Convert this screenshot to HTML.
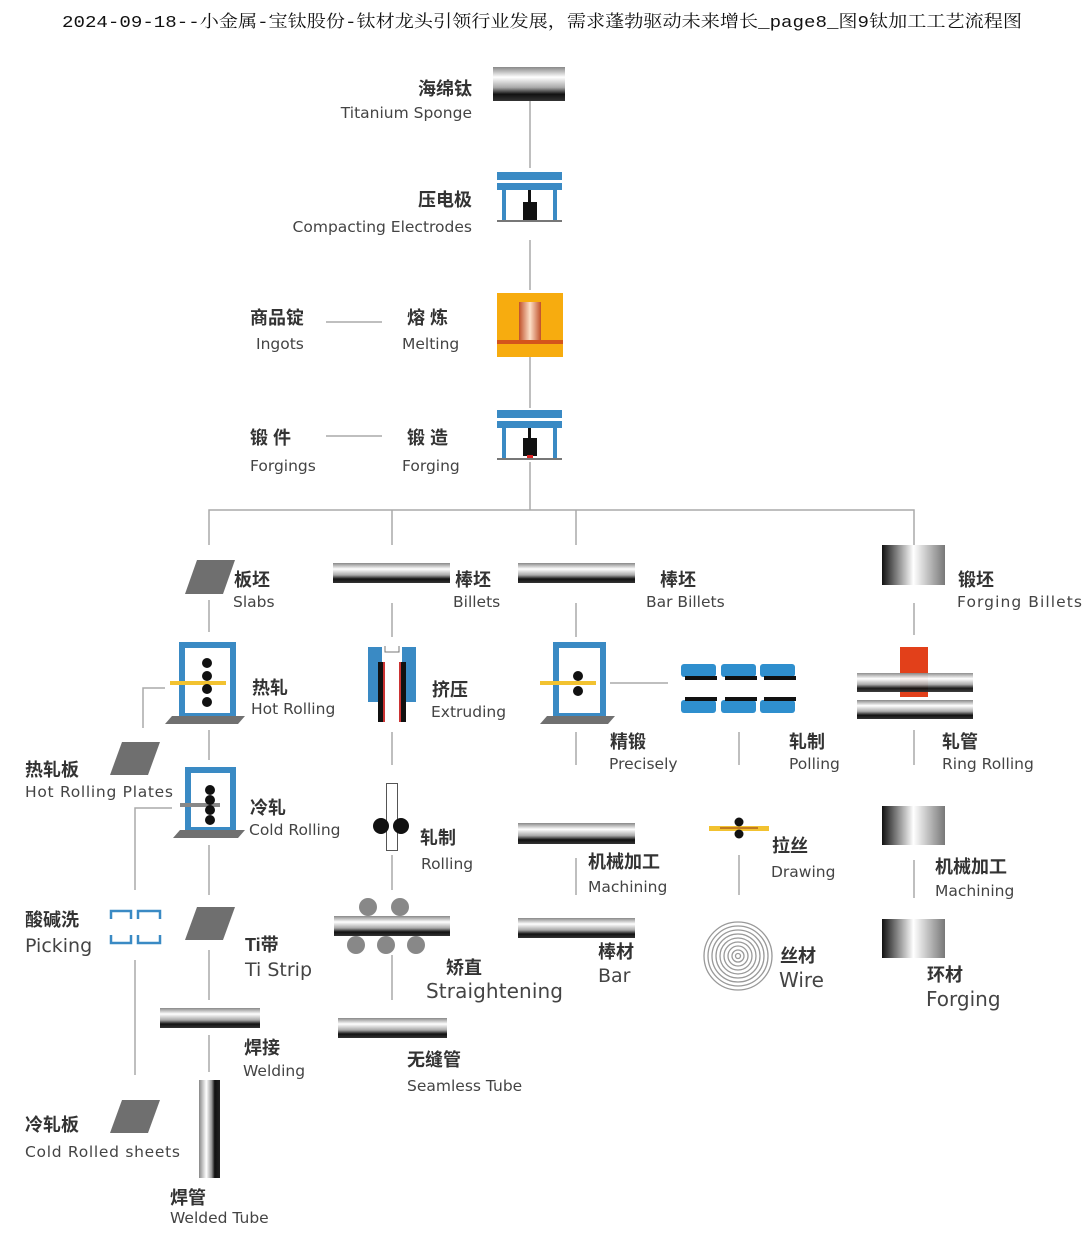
<!DOCTYPE html>
<html><head><meta charset="utf-8">
<style>
html,body{margin:0;padding:0;background:#fff;}
svg{display:block;}
.t{font-family:"Liberation Mono","Noto Serif CJK SC",monospace;font-size:17px;fill:#111;}
.c{font-family:"Liberation Sans","Noto Sans CJK SC",sans-serif;font-size:18px;fill:#333;font-weight:bold;}
.e{font-family:"DejaVu Sans","Liberation Sans",sans-serif;font-size:15.5px;fill:#444;}
.l{stroke:#aaa;stroke-width:1.5;fill:none;}
</style></head><body>
<svg width="1086" height="1240" viewBox="0 0 1086 1240" xmlns="http://www.w3.org/2000/svg">
<defs>
<linearGradient id="hb" x1="0" y1="0" x2="0" y2="1">
<stop offset="0" stop-color="#888"/><stop offset="0.3" stop-color="#fff"/><stop offset="0.6" stop-color="#aaa"/><stop offset="0.8" stop-color="#111"/><stop offset="1" stop-color="#333"/></linearGradient>
<linearGradient id="cy" x1="0" y1="0" x2="1" y2="0">
<stop offset="0" stop-color="#111"/><stop offset="0.5" stop-color="#fff"/><stop offset="1" stop-color="#777"/></linearGradient>
<linearGradient id="vt" x1="0" y1="0" x2="1" y2="0">
<stop offset="0" stop-color="#888"/><stop offset="0.35" stop-color="#fff"/><stop offset="0.6" stop-color="#999"/><stop offset="0.75" stop-color="#111"/><stop offset="1" stop-color="#222"/></linearGradient>
<linearGradient id="cu" x1="0" y1="0" x2="1" y2="0">
<stop offset="0" stop-color="#c0502a"/><stop offset="0.5" stop-color="#fde0c8"/><stop offset="1" stop-color="#c0502a"/></linearGradient>
</defs>

<text class="t" x="62" y="27" textLength="960" lengthAdjust="spacingAndGlyphs">2024-09-18--小金属-宝钛股份-钛材龙头引领行业发展，需求蓬勃驱动未来增长_page8_图9钛加工工艺流程图</text>

<path class="l" d="M530 101V168 M530 240V290 M530 357V408 M530 462V510 M209 545V510H914V545 M392 510V545 M576 510V545"/>
<path class="l" d="M326 322H382 M326 436H382"/>

<rect x="493" y="67" width="72" height="34" fill="url(#hb)"/>
<text class="c" x="472" y="95" text-anchor="end">海绵钛</text>
<text class="e" x="472" y="118" text-anchor="end">Titanium Sponge</text>

<g>
<rect x="497" y="172" width="65" height="8" fill="#3a8ac4"/>
<rect x="497" y="183" width="65" height="7" fill="#3a8ac4"/>
<rect x="502" y="190" width="4" height="30" fill="#3a8ac4"/>
<rect x="553" y="190" width="4" height="30" fill="#3a8ac4"/>
<rect x="528" y="190" width="3" height="12" fill="#111"/>
<rect x="523" y="202" width="14" height="18" fill="#111"/>
<rect x="497" y="220" width="65" height="2" fill="#777"/>
</g>
<text class="c" x="472" y="206" text-anchor="end">压电极</text>
<text class="e" x="472" y="232" text-anchor="end">Compacting Electrodes</text>

<rect x="497" y="293" width="66" height="64" fill="#f7ac0f"/>
<rect x="519" y="302" width="22" height="38" fill="url(#cu)"/>
<rect x="497" y="340" width="66" height="4" fill="#d4541c"/>
<text class="c" x="250" y="324">商品锭</text>
<text class="e" x="256" y="349">Ingots</text>
<text class="c" x="407" y="324">熔 炼</text>
<text class="e" x="402" y="349">Melting</text>

<g>
<rect x="497" y="410" width="65" height="8" fill="#3a8ac4"/>
<rect x="497" y="421" width="65" height="7" fill="#3a8ac4"/>
<rect x="502" y="428" width="4" height="30" fill="#3a8ac4"/>
<rect x="553" y="428" width="4" height="30" fill="#3a8ac4"/>
<rect x="528" y="428" width="3" height="10" fill="#111"/>
<rect x="523" y="438" width="14" height="18" fill="#111"/>
<rect x="527" y="455" width="6" height="5" fill="#d22"/>
<rect x="497" y="458" width="65" height="2" fill="#777"/>
</g>
<text class="c" x="250" y="444">锻 件</text>
<text class="e" x="250" y="471">Forgings</text>
<text class="c" x="407" y="444">锻 造</text>
<text class="e" x="402" y="471">Forging</text>

<!-- column 1 -->
<polygon points="197,560 235,560 223,594 185,594" fill="#6f6f6f"/>
<text class="c" x="234" y="586">板坯</text>
<text class="e" x="233" y="607">Slabs</text>
<path class="l" d="M209 600V632 M209 730V760 M209 845V895 M209 950V1000 M209 1035V1072"/>
<rect x="182" y="645" width="51" height="71" fill="none" stroke="#3a8ac4" stroke-width="6"/>
<polygon points="172,716 245,716 238,724 165,724" fill="#707070"/>
<rect x="170" y="681" width="56" height="4" fill="#f2c230"/>
<circle cx="207" cy="663" r="5" fill="#111"/><circle cx="207" cy="676" r="5" fill="#111"/><circle cx="207" cy="689" r="5" fill="#111"/><circle cx="207" cy="702" r="5" fill="#111"/>
<text class="c" x="252" y="694">热轧</text>
<text class="e" x="251" y="714">Hot Rolling</text>
<path class="l" d="M165 688H143V728"/>
<polygon points="122,742 160,742 148,775 110,775" fill="#6f6f6f"/>
<text class="c" x="25" y="776">热轧板</text>
<text class="e" x="25" y="797" textLength="148">Hot Rolling Plates</text>
<rect x="188" y="770" width="45" height="60" fill="none" stroke="#3a8ac4" stroke-width="6"/>
<polygon points="180,830 245,830 238,838 173,838" fill="#707070"/>
<rect x="180" y="803" width="40" height="4" fill="#888"/>
<circle cx="210" cy="790" r="5" fill="#111"/><circle cx="210" cy="800" r="5" fill="#111"/><circle cx="210" cy="810" r="5" fill="#111"/><circle cx="210" cy="820" r="5" fill="#111"/>
<text class="c" x="250" y="814">冷轧</text>
<text class="e" x="249" y="835">Cold Rolling</text>
<path class="l" d="M172 808H135V890 M135 960V1075"/>
<path d="M111 919V911H131V919 M111 935V943H131V935 M138 919V911H160V919 M138 935V943H160V935" fill="none" stroke="#3a8ac4" stroke-width="2.5"/>
<text class="c" x="25" y="926">酸碱洗</text>
<text class="e" x="25" y="952" style="font-size:19px">Picking</text>
<polygon points="197,907 235,907 223,940 185,940" fill="#6f6f6f"/>
<text class="c" x="245" y="951">Ti带</text>
<text class="e" x="245" y="976" style="font-size:19px">Ti Strip</text>
<rect x="160" y="1008" width="100" height="20" fill="url(#hb)"/>
<text class="c" x="244" y="1054">焊接</text>
<text class="e" x="243" y="1076">Welding</text>
<rect x="199" y="1080" width="21" height="98" fill="url(#vt)"/>
<text class="c" x="170" y="1204">焊管</text>
<text class="e" x="170" y="1223">Welded Tube</text>
<polygon points="122,1100 160,1100 148,1133 110,1133" fill="#6f6f6f"/>
<text class="c" x="25" y="1131">冷轧板</text>
<text class="e" x="25" y="1157" textLength="155">Cold Rolled sheets</text>

<!-- column 2 -->
<rect x="333" y="563" width="117" height="20" fill="url(#hb)"/>
<text class="c" x="455" y="586">棒坯</text>
<text class="e" x="453" y="607">Billets</text>
<path class="l" d="M392 603V637 M392 732V765 M392 855V890 M392 955V1000"/>
<rect x="368" y="647" width="14" height="55" fill="#3a8ac4"/><rect x="402" y="647" width="14" height="55" fill="#3a8ac4"/>
<rect x="378" y="662" width="5" height="60" fill="#111"/><rect x="401" y="662" width="5" height="60" fill="#111"/>
<rect x="383" y="662" width="2" height="60" fill="#c33"/><rect x="399" y="662" width="2" height="60" fill="#c33"/>
<path d="M385 646V652H399V646" fill="none" stroke="#777" stroke-width="1"/>
<text class="c" x="432" y="696">挤压</text>
<text class="e" x="431" y="717">Extruding</text>
<rect x="386.5" y="783.5" width="11" height="67" fill="#fff" stroke="#555" stroke-width="1"/>
<circle cx="381" cy="826" r="8" fill="#111"/><circle cx="401" cy="826" r="8" fill="#111"/>
<text class="c" x="420" y="844">轧制</text>
<text class="e" x="421" y="869">Rolling</text>
<circle cx="368" cy="907" r="9" fill="#888"/><circle cx="400" cy="907" r="9" fill="#888"/>
<rect x="334" y="916" width="116" height="20" fill="url(#hb)"/>
<circle cx="356" cy="945" r="9" fill="#888"/><circle cx="386" cy="945" r="9" fill="#888"/><circle cx="416" cy="945" r="9" fill="#888"/>
<text class="c" x="446" y="974">矫直</text>
<text class="e" x="426" y="998" style="font-size:20px" textLength="137">Straightening</text>
<rect x="338" y="1018" width="109" height="20" fill="url(#hb)"/>
<text class="c" x="407" y="1066">无缝管</text>
<text class="e" x="407" y="1091">Seamless Tube</text>

<!-- column 3 -->
<rect x="518" y="563" width="117" height="20" fill="url(#hb)"/>
<text class="c" x="660" y="586">棒坯</text>
<text class="e" x="646" y="607">Bar Billets</text>
<path class="l" d="M576 603V637 M576 732V765 M739 732V765 M576 858V895 M739 855V895 M610 683H668"/>
<rect x="556" y="645" width="47" height="71" fill="none" stroke="#3a8ac4" stroke-width="6"/>
<polygon points="547,716 615,716 608,724 540,724" fill="#707070"/>
<rect x="540" y="681" width="56" height="4" fill="#f2c230"/>
<circle cx="578" cy="676" r="5" fill="#111"/><circle cx="578" cy="691" r="5" fill="#111"/>
<g fill="#2f8fce">
<rect x="681" y="664" width="35" height="13" rx="3"/><rect x="721" y="664" width="35" height="13" rx="3"/><rect x="760" y="664" width="35" height="13" rx="3"/>
<rect x="681" y="700" width="35" height="13" rx="3"/><rect x="721" y="700" width="35" height="13" rx="3"/><rect x="760" y="700" width="35" height="13" rx="3"/>
</g>
<g fill="#111">
<rect x="685" y="676" width="32" height="4"/><rect x="725" y="676" width="32" height="4"/><rect x="764" y="676" width="32" height="4"/>
<rect x="685" y="697" width="32" height="4"/><rect x="725" y="697" width="32" height="4"/><rect x="764" y="697" width="32" height="4"/>
</g>
<text class="c" x="610" y="748">精锻</text>
<text class="e" x="609" y="769">Precisely</text>
<text class="c" x="789" y="748">轧制</text>
<text class="e" x="789" y="769">Polling</text>
<rect x="518" y="823" width="117" height="21" fill="url(#hb)"/>
<text class="c" x="588" y="868">机械加工</text>
<text class="e" x="588" y="892">Machining</text>
<rect x="518" y="918" width="117" height="20" fill="url(#hb)"/>
<text class="c" x="598" y="958">棒材</text>
<text class="e" x="598" y="982" style="font-size:19px">Bar</text>
<rect x="709" y="826" width="60" height="5" fill="#f2c230"/>
<rect x="720" y="827" width="38" height="2" fill="#c07a20"/>
<circle cx="739" cy="822" r="4.5" fill="#111"/><circle cx="739" cy="834" r="4.5" fill="#111"/>
<text class="c" x="772" y="852">拉丝</text>
<text class="e" x="771" y="877">Drawing</text>
<g fill="none" stroke="#999" stroke-width="1.3">
<circle cx="738" cy="956" r="34"/><circle cx="738" cy="956" r="30"/><circle cx="738" cy="956" r="26"/><circle cx="738" cy="956" r="22"/><circle cx="738" cy="956" r="18"/><circle cx="738" cy="956" r="14"/><circle cx="738" cy="956" r="10"/><circle cx="738" cy="956" r="6"/><circle cx="738" cy="956" r="2.5"/>
</g>
<text class="c" x="780" y="962">丝材</text>
<text class="e" x="779" y="987" style="font-size:20px">Wire</text>

<!-- column 4 -->
<rect x="882" y="545" width="63" height="40" fill="url(#cy)"/>
<text class="c" x="958" y="586">锻坯</text>
<text class="e" x="957" y="607" textLength="125">Forging Billets</text>
<path class="l" d="M914 603V635 M914 730V765 M914 860V898"/>
<rect x="900" y="647" width="28" height="50" fill="#e2401a"/>
<rect x="857" y="673" width="116" height="19" fill="url(#hb)" opacity="0.95"/>
<rect x="857" y="700" width="116" height="19" fill="url(#hb)"/>
<rect x="900" y="647" width="28" height="26" fill="#e2401a"/>
<text class="c" x="942" y="748">轧管</text>
<text class="e" x="942" y="769">Ring Rolling</text>
<rect x="882" y="806" width="63" height="39" fill="url(#cy)"/>
<text class="c" x="935" y="873">机械加工</text>
<text class="e" x="935" y="896">Machining</text>
<rect x="882" y="919" width="63" height="39" fill="url(#cy)"/>
<text class="c" x="927" y="981">环材</text>
<text class="e" x="926" y="1006" style="font-size:20px">Forging</text>
</svg>
</body></html>
